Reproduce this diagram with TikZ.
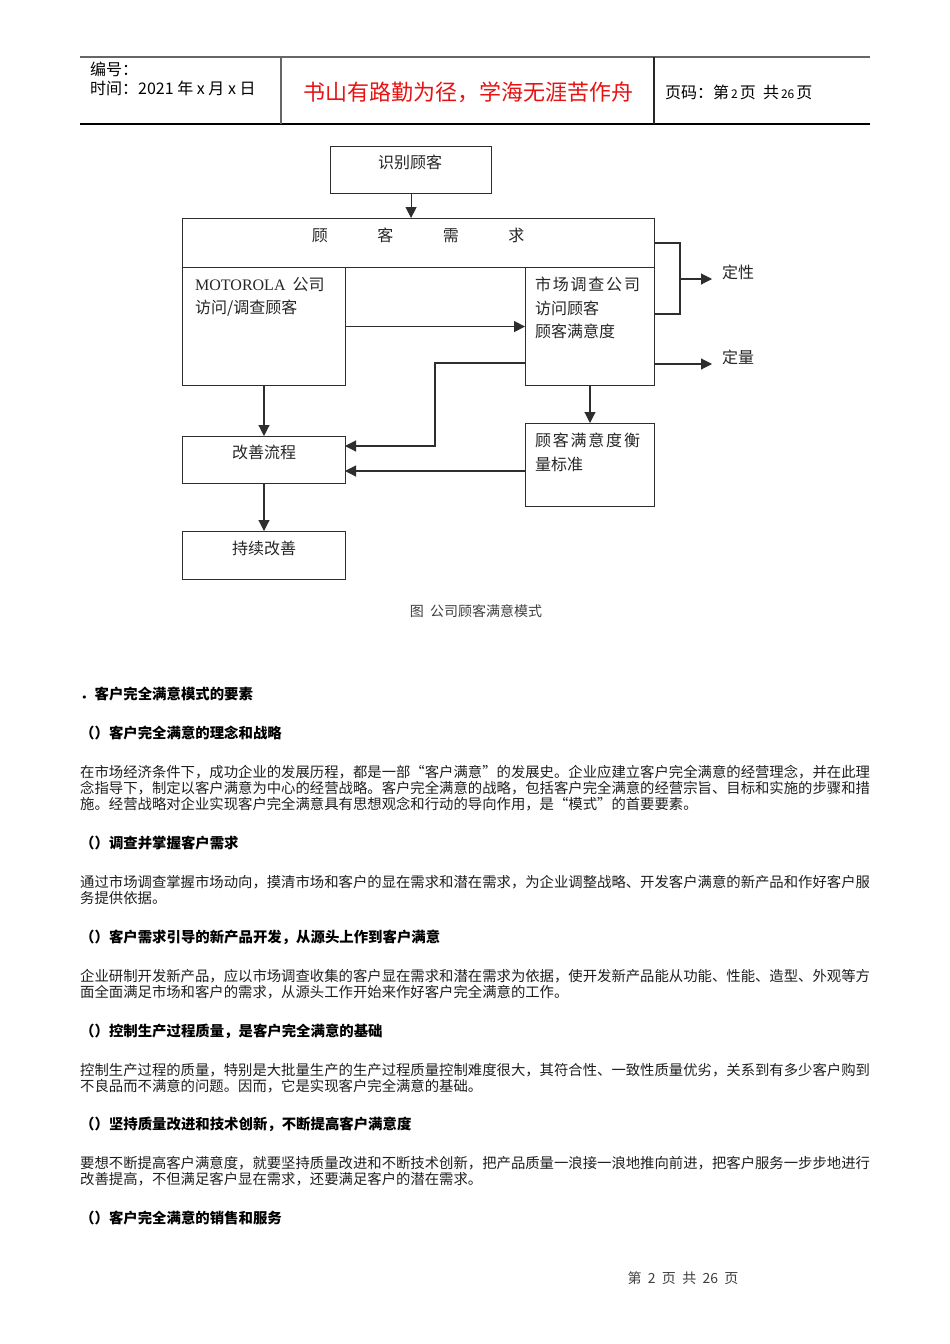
\documentclass[tikz,border=0pt]{standalone}
\usepackage{fontspec}
\setmainfont{Liberation Serif}
\newfontfamily\cjk{Noto Sans CJK SC}
\usetikzlibrary{arrows.meta}
\XeTeXlinebreaklocale "zh"
\XeTeXlinebreakskip=0pt plus 1pt
\definecolor{ln}{gray}{0.18}
\definecolor{titlered}{RGB}{232,18,18}
\newcommand\fullline[1]{\makebox[790pt][s]{#1}}
\begin{document}
\begin{tikzpicture}[x=1pt,y=-1pt,
  box/.style={draw=ln, line width=1.1pt, inner sep=0pt, anchor=north west},
  arr/.style={draw=ln, line width=1.1pt, -{Triangle[length=11pt,width=11pt]}},
  plainline/.style={draw=ln, line width=1.1pt},
  dtxt/.style={font=\cjk\fontsize{16}{20}\selectfont, text=black!85, inner sep=0pt, anchor=west},
  htxt/.style={font=\cjk\fontsize{16}{20}\selectfont, text=black, inner sep=0pt, anchor=west},
  ptxt/.style={font=\cjk\fontsize{14.36}{16}\selectfont, text=black!88, inner sep=0pt, anchor=base west},
  hdtxt/.style={font=\cjk\bfseries\fontsize{14.4}{16}\selectfont, text=black, inner sep=0pt, anchor=base west},
  captxt/.style={font=\cjk\fontsize{14}{16}\selectfont, text=black!75, inner sep=0pt}
]
\useasboundingbox[fill=white] (0,0) rectangle (950,1344);

% ---------- header ----------
\draw[gray!80!black, line width=1.8pt] (80,57) -- (870,57);
\draw[black, line width=1.4pt] (80,124) -- (870,124);
\draw[gray!80!black, line width=1.4pt] (281,57) -- (281,124);
\draw[black!85, line width=1.2pt] (654,57) -- (654,124);
\node[htxt] (hno) at (90,69) {编号：};
\node[htxt] (htime) at (90,88) {时间：2021 年 x 月 x 日};
\node[font=\cjk\fontsize{22}{24}\selectfont, text=titlered, inner sep=0pt] (htitle) at (468,92) {书山有路勤为径，学海无涯苦作舟};
\node[htxt] (hpage) at (665,92) {页码：第{\fontsize{12}{12}\selectfont\,2\,}页\ \ 共{\fontsize{12}{12}\selectfont\,26\,}页};

% ---------- diagram ----------
\node[box, minimum width=161pt, minimum height=47pt] (shibie) at (330,146) {};
\node[dtxt, anchor=center] (shibiet) at (410,162) {识别顾客};

\node[box, minimum width=472pt, minimum height=49pt] (band) at (182,218) {};
\node[dtxt, anchor=center] (bandt) at (418,235) {顾\hspace{49.5pt}客\hspace{49.5pt}需\hspace{49.5pt}求};

\node[box, minimum width=163pt, minimum height=118pt] (moto) at (182,267) {};
\node[dtxt] (motot1) at (195,285) {{\rmfamily MOTOROLA}\ \ 公司};
\node[dtxt] (motot2) at (195,308) {访问/调查顾客};

\node[box, minimum width=129pt, minimum height=118pt] (market) at (525,267) {};
\node[dtxt, font=\cjk\fontsize{16}{20}\selectfont\addfontfeature{LetterSpace=11}] (markett1) at (535,284) {市场调查公司};
\node[dtxt] (markett2) at (535,308) {访问顾客};
\node[dtxt] (markett3) at (535,331) {顾客满意度};

\node[box, minimum width=129pt, minimum height=83pt] (hengliang) at (525,423) {};
\node[dtxt, font=\cjk\fontsize{16}{20}\selectfont\addfontfeature{LetterSpace=11}] (hengt1) at (535,440) {顾客满意度衡};
\node[dtxt] (hengt2) at (535,464) {量标准};

\node[box, minimum width=163pt, minimum height=47pt] (gaishan) at (182,436) {};
\node[dtxt, anchor=center] (gaishant) at (264,452) {改善流程};

\node[box, minimum width=163pt, minimum height=48pt] (chixu) at (182,531) {};
\node[dtxt, anchor=center] (chixut) at (264,548) {持续改善};

\node[dtxt] (dingxing) at (722,272) {定性};
\node[dtxt] (dingliang) at (722,357) {定量};

% connectors
\draw[arr] (shibie.south) -- (shibie.south |- band.north);
\draw[arr] (moto.east) -- (market.west);
\coordinate (brtop) at (654,243);
\coordinate (brbot) at (654,314);
\coordinate (brcorner) at (680,243);
\coordinate (brmid) at (680,279);
\coordinate (dxtip) at (712,279);
\draw[plainline] (brtop) -- (brcorner) -- (680,314) -- (brbot);
\draw[arr] (brmid) -- (dxtip);
\coordinate (dlstart) at (654,364);
\coordinate (dltip) at (712,364);
\draw[arr] (dlstart) -- (dltip);
\coordinate (mleft) at (525,363);
\coordinate (gsin1) at (345,446);
\draw[arr] (mleft) -- (435,363) -- (435,446) -- (gsin1);
\coordinate (hlout) at (525,471);
\coordinate (gsin2) at (345,471);
\draw[arr] (hlout) -- (gsin2);
\draw[arr] (590,385) -- (590,423);
\draw[arr] (moto.south -| 264,0) -- (264,436);
\draw[arr] (gaishan.south -| 264,0) -- (chixu.north -| 264,0);

\node[captxt] (caption) at (476,611) {图\ \ 公司顾客满意模式};

% ---------- body text ----------
\node[hdtxt] (h0) at (80,699) {．客户完全满意模式的要素};
\node[hdtxt] (h1) at (80,738) {（）客户完全满意的理念和战略};
\node[ptxt] (p1a) at (80,777) {\fullline{在市场经济条件下，成功企业的发展历程，都是一部“客户满意”的发展史。企业应建立客户完全满意的经营理念，并在此理}};
\node[ptxt] (p1b) at (80,793) {\fullline{念指导下，制定以客户满意为中心的经营战略。客户完全满意的战略，包括客户完全满意的经营宗旨、目标和实施的步骤和措}};
\node[ptxt] (p1c) at (80,809) {施。经营战略对企业实现客户完全满意具有思想观念和行动的导向作用，是“模式”的首要要素。};

\node[hdtxt] (h2) at (80,848) {（）调查并掌握客户需求};
\node[ptxt] (p2a) at (80,887) {\fullline{通过市场调查掌握市场动向，摸清市场和客户的显在需求和潜在需求，为企业调整战略、开发客户满意的新产品和作好客户服}};
\node[ptxt] (p2b) at (80,903) {务提供依据。};

\node[hdtxt] (h3) at (80,942) {（）客户需求引导的新产品开发，从源头上作到客户满意};
\node[ptxt] (p3a) at (80,981) {\fullline{企业研制开发新产品，应以市场调查收集的客户显在需求和潜在需求为依据，使开发新产品能从功能、性能、造型、外观等方}};
\node[ptxt] (p3b) at (80,997) {面全面满足市场和客户的需求，从源头工作开始来作好客户完全满意的工作。};

\node[hdtxt] (h4) at (80,1036) {（）控制生产过程质量，是客户完全满意的基础};
\node[ptxt] (p4a) at (80,1075) {\fullline{控制生产过程的质量，特别是大批量生产的生产过程质量控制难度很大，其符合性、一致性质量优劣，关系到有多少客户购到}};
\node[ptxt] (p4b) at (80,1091) {不良品而不满意的问题。因而，它是实现客户完全满意的基础。};

\node[hdtxt] (h5) at (80,1129) {（）坚持质量改进和技术创新，不断提高客户满意度};
\node[ptxt] (p5a) at (80,1168) {\fullline{要想不断提高客户满意度，就要坚持质量改进和不断技术创新，把产品质量一浪接一浪地推向前进，把客户服务一步步地进行}};
\node[ptxt] (p5b) at (80,1184) {改善提高，不但满足客户显在需求，还要满足客户的潜在需求。};

\node[hdtxt] (h6) at (80,1223) {（）客户完全满意的销售和服务};

% ---------- footer ----------
\node[captxt] (footer) at (683,1278) {第\ \ 2\ \ 页\ \ 共\ \ 26\ \ 页};
\end{tikzpicture}
\end{document}
